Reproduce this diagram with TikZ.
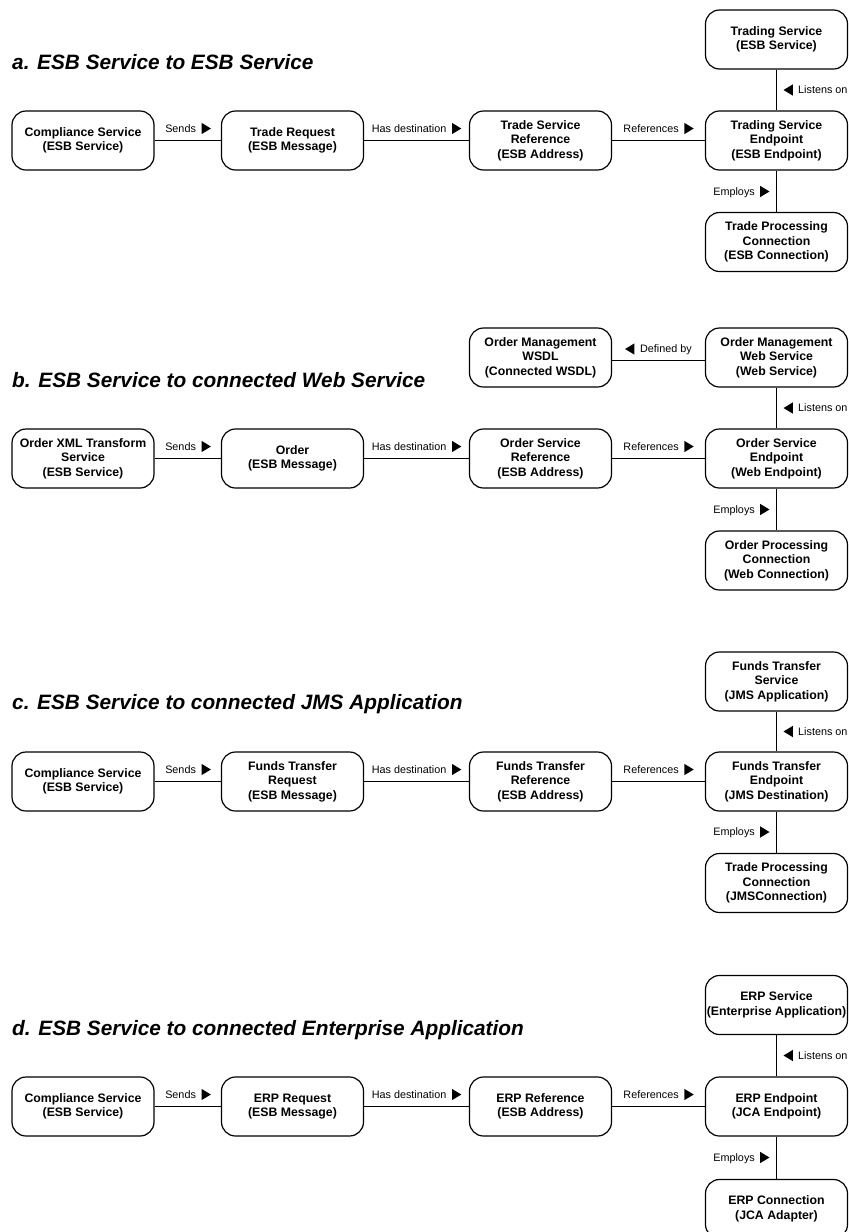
\documentclass[tikz,border=0pt]{standalone}
\usepackage{fontspec}
\setmainfont{Liberation Sans}
\begin{document}
\begin{tikzpicture}[x=1pt,y=-1pt,
  box/.style={draw=black, line width=1.2pt, rounded corners=14pt,
    minimum width=142pt, minimum height=59pt, inner sep=0pt, align=center,
    font=\fontsize{12.3}{14.5}\selectfont\bfseries},
  link/.style={draw=black, line width=1.25pt},
  lbl/.style={inner sep=0pt, text height=7.8pt, text depth=0pt,
    font=\fontsize{10.8}{12}\selectfont},
  heading/.style={anchor=base west, inner sep=0pt,
    font=\fontsize{20.8}{24}\selectfont\bfseries\itshape},
  tri/.style={fill=black},
]
\useasboundingbox (0,0) rectangle (849,1232);

% horizontal label: text followed by a right-pointing triangle, centred on (#2,#3)
\newcommand\fwdH[4]{%
  \node[lbl] (#1) at (#2-7.4,#3) {#4};
  \fill[tri] ([xshift=5.5pt]#1.east) -- ++(0,-5.6) -- ++(9.3,5.6) -- ++(-9.3,5.6) -- cycle;}
% horizontal label: left-pointing triangle followed by text, centred on (#2,#3)
\newcommand\backH[4]{%
  \node[lbl] (#1) at (#2+7.4,#3) {#4};
  \fill[tri] ([xshift=-14.8pt]#1.west) -- ++(9.3,-5.6) -- ++(0,11.2) -- cycle;}
% vertical connector label on the right: triangle then text
\newcommand\backV[4]{%
  \node[lbl, anchor=west] (#1) at (#2+21.5,#3) {#4};
  \fill[tri] ([xshift=-14.5pt]#1.west) -- ++(9.3,-5.6) -- ++(0,11.2) -- cycle;}
% vertical connector label on the left: text then triangle
\newcommand\fwdV[4]{%
  \node[lbl, anchor=east] (#1) at (#2-21.5,#3) {#4};
  \fill[tri] ([xshift=5.2pt]#1.east) -- ++(0,-5.6) -- ++(9.3,5.6) -- ++(-9.3,5.6) -- cycle;}

% ---------------- a ----------------
\node[heading] (ta) at (12,69) {a. ESB Service to ESB Service};
\node[box] (a1) at (83,140.5) {Compliance Service\\(ESB Service)};
\node[box] (a2) at (292.5,140.5) {Trade Request\\(ESB Message)};
\node[box] (a3) at (540.5,140.5) {Trade Service\\Reference\\(ESB Address)};
\node[box] (a4) at (776.5,140.5) {Trading Service\\Endpoint\\(ESB Endpoint)};
\node[box] (a5) at (776.5,39.5) {Trading Service\\(ESB Service)};
\node[box] (a6) at (776.5,242) {Trade Processing\\Connection\\(ESB Connection)};
\draw[link] (a1) -- (a2);
\draw[link] (a2) -- (a3);
\draw[link] (a3) -- (a4);
\draw[link] (a5) -- (a4);
\draw[link] (a4) -- (a6);
\fwdH{la1}{188}{128.5}{Sends}
\fwdH{la2}{416.5}{128.5}{Has destination}
\fwdH{la3}{658.5}{128.5}{References}
\backV{la4}{776.5}{90}{Listens on}
\fwdV{la5}{776.5}{191.5}{Employs}

% ---------------- b ----------------
\node[heading] (tb) at (12,387) {b. ESB Service to connected Web Service};
\node[box] (b1) at (83,458.5) {Order XML Transform\\Service\\(ESB Service)};
\node[box] (b2) at (292.5,458.5) {Order\\(ESB Message)};
\node[box] (b3) at (540.5,458.5) {Order Service\\Reference\\(ESB Address)};
\node[box] (b4) at (776.5,458.5) {Order Service\\Endpoint\\(Web Endpoint)};
\node[box] (b5) at (776.5,357.5) {Order Management\\Web Service\\(Web Service)};
\node[box] (b7) at (540.5,357.5) {Order Management\\WSDL\\(Connected WSDL)};
\node[box] (b6) at (776.5,560.5) {Order Processing\\Connection\\(Web Connection)};
\draw[link] (b1) -- (b2);
\draw[link] (b2) -- (b3);
\draw[link] (b3) -- (b4);
\draw[link] (b5) -- (b4);
\draw[link] (b4) -- (b6);
\draw[link] ([yshift=-3pt]b7.east) -- ([yshift=-3pt]b5.west);
\fwdH{lb1}{188}{446.5}{Sends}
\fwdH{lb2}{416.5}{446.5}{Has destination}
\fwdH{lb3}{658.5}{446.5}{References}
\backH{lb6}{658.5}{349}{Defined by}
\backV{lb4}{776.5}{408}{Listens on}
\fwdV{lb5}{776.5}{509.5}{Employs}

% ---------------- c ----------------
\node[heading] (tc) at (12,709) {c. ESB Service to connected JMS Application};
\node[box] (c1) at (83,781.5) {Compliance Service\\(ESB Service)};
\node[box] (c2) at (292.5,781.5) {Funds Transfer\\Request\\(ESB Message)};
\node[box] (c3) at (540.5,781.5) {Funds Transfer\\Reference\\(ESB Address)};
\node[box] (c4) at (776.5,781.5) {Funds Transfer\\Endpoint\\(JMS Destination)};
\node[box] (c5) at (776.5,681.5) {Funds Transfer\\Service\\(JMS Application)};
\node[box] (c6) at (776.5,883) {Trade Processing\\Connection\\(JMSConnection)};
\draw[link] (c1) -- (c2);
\draw[link] (c2) -- (c3);
\draw[link] (c3) -- (c4);
\draw[link] (c5) -- (c4);
\draw[link] (c4) -- (c6);
\fwdH{lc1}{188}{769.5}{Sends}
\fwdH{lc2}{416.5}{769.5}{Has destination}
\fwdH{lc3}{658.5}{769.5}{References}
\backV{lc4}{776.5}{731.5}{Listens on}
\fwdV{lc5}{776.5}{832}{Employs}

% ---------------- d ----------------
\node[heading] (td) at (12,1035) {d. ESB Service to connected Enterprise Application};
\node[box] (d1) at (83,1106.5) {Compliance Service\\(ESB Service)};
\node[box] (d2) at (292.5,1106.5) {ERP Request\\(ESB Message)};
\node[box] (d3) at (540.5,1106.5) {ERP Reference\\(ESB Address)};
\node[box] (d4) at (776.5,1106.5) {ERP Endpoint\\(JCA Endpoint)};
\node[box] (d5) at (776.5,1005) {ERP Service\\(Enterprise Application)};
\node[box] (d6) at (776.5,1209) {ERP Connection\\(JCA Adapter)};
\draw[link] (d1) -- (d2);
\draw[link] (d2) -- (d3);
\draw[link] (d3) -- (d4);
\draw[link] (d5) -- (d4);
\draw[link] (d4) -- (d6);
\fwdH{ld1}{188}{1094.5}{Sends}
\fwdH{ld2}{416.5}{1094.5}{Has destination}
\fwdH{ld3}{658.5}{1094.5}{References}
\backV{ld4}{776.5}{1055.5}{Listens on}
\fwdV{ld5}{776.5}{1157.5}{Employs}
\end{tikzpicture}
\end{document}
